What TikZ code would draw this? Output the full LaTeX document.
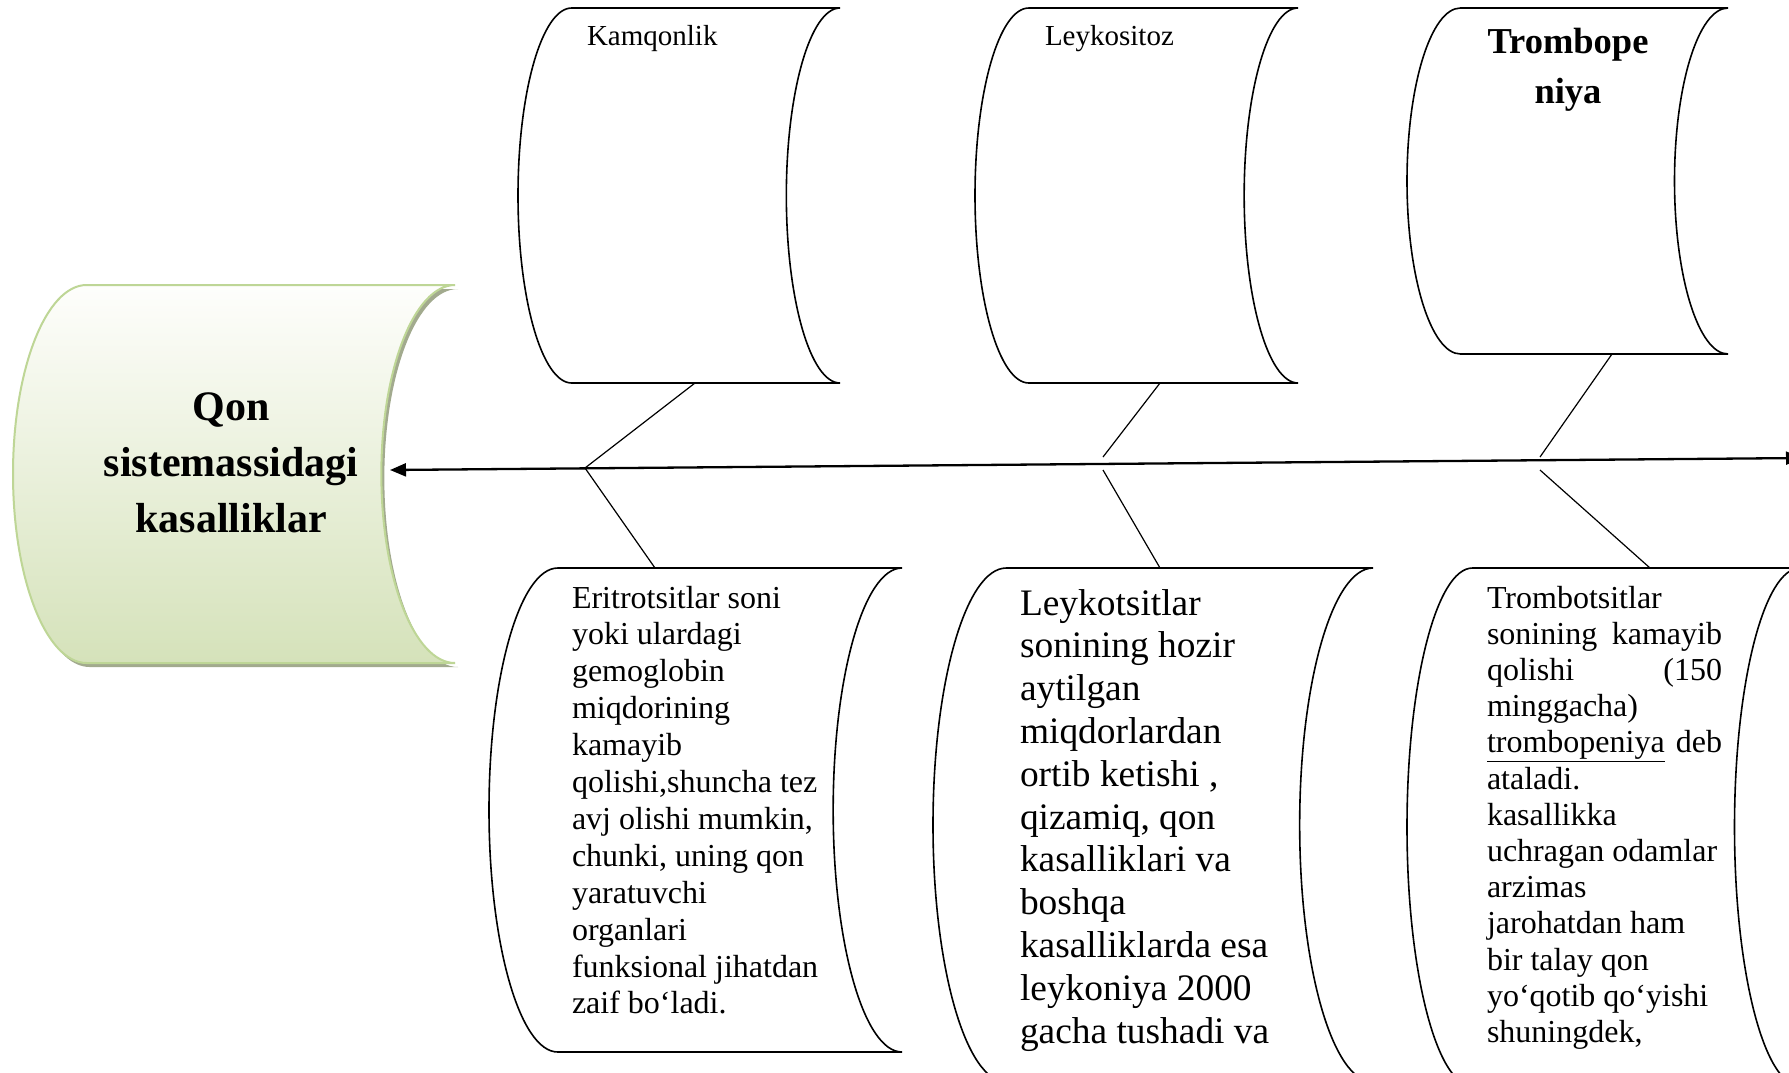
\documentclass[tikz,border=0pt]{standalone}
\usepackage{fontspec}
\setmainfont{Liberation Serif}
\usetikzlibrary{arrows.meta}

\definecolor{leafline}{RGB}{190,214,150}
\definecolor{leaftop}{RGB}{254,254,252}
\definecolor{leafmid}{RGB}{238,244,228}
\definecolor{leafbot}{RGB}{213,226,186}
\definecolor{leafshadow}{RGB}{162,170,142}

% Stored-data outline: convex arc on the left, concave arc on the right.
% Arguments: style, x0, ytop, x1, ybot (y counted downwards).
\newcommand\scrollshape[5][]{%
  \pgfmathsetmacro\scrD{(#4-#2)/6}%
  \pgfmathsetmacro\scrR{(#5-#3)/2}%
  \pgfmathsetmacro\scrA{#2+\scrD}%
  \path[#1] (\scrA,-#3) -- (#4,-#3)
    arc[start angle=90,end angle=270,x radius=\scrD,y radius=\scrR]
    -- (\scrA,-#5)
    arc[start angle=270,end angle=90,x radius=\scrD,y radius=\scrR] -- cycle;}

% Same outline plus an invisible named node covering it.
\newcommand\scrollbox[6][]{%
  \scrollshape[#1]{#3}{#4}{#5}{#6}%
  \pgfmathsetmacro\scrW{#5-#3}%
  \pgfmathsetmacro\scrH{#6-#4}%
  \node[boxarea, minimum width=\scrW pt, minimum height=\scrH pt,
        anchor=north west] (#2) at (#3,-#4) {};}

\tikzset{
  boxarea/.style={draw=none, inner sep=0pt, outer sep=0pt, rectangle},
  outline/.style={draw=black, line width=1.6pt, fill=white},
  branch/.style={draw=black, line width=1.2pt},
  spine/.style={draw=black, line width=2.3pt},
  label/.style={inner sep=0pt, outer sep=0pt, text=black},
}

\begin{document}
\begin{tikzpicture}[x=1pt,y=1pt]
  \useasboundingbox (0,0) rectangle (1789,-1072);
  \fill[white] (0,0) rectangle (1789,-1072);
  \clip (0,0) rectangle (1789,-1072);

  % central green head with its shadow
  \scrollshape[fill=leafshadow, shift={(3,-4)}]{13}{285}{455}{663}
  \scrollbox[draw=leafline, line width=2pt, top color=leaftop,
             middle color=leafmid, bottom color=leafbot]{qon}{13}{285}{455}{663}
  \node[label, anchor=base, font=\bfseries\fontsize{42}{56}\selectfont]
    (qontxt) at (231,-420)
    {\parbox[t]{420pt}{\centering Qon\\sistemassidagi\\kasalliklar}};

  % upper boxes
  \scrollbox[outline]{b1}{518}{8}{840}{383}
  \scrollbox[outline]{b2}{975}{8}{1298}{383}
  \scrollbox[outline]{b3}{1407}{8}{1728}{354}

  % lower boxes (the last two run past the lower edge)
  \scrollbox[outline]{b4}{489}{568}{902}{1052}
  \scrollbox[outline]{b5}{933}{568}{1373}{1082}
  \scrollbox[outline]{b6}{1407}{568}{1800}{1086}

  % titles of the upper boxes
  \node[label, anchor=base west, font=\fontsize{29}{33}\selectfont]
    (t1) at (587,-45) {Kamqonlik};
  \node[label, anchor=base west, font=\fontsize{29}{33}\selectfont]
    (t2) at (1045,-45) {Leykositoz};
  \node[label, anchor=base, font=\bfseries\fontsize{36.5}{50}\selectfont]
    (t3) at (1568,-53) {\parbox[t]{300pt}{\centering Trombope\\niya}};

  % texts of the lower boxes
  \node[label, anchor=base west, font=\fontsize{32}{36.9}\selectfont]
    (t4) at (572,-608) {\parbox[t]{280pt}{\raggedright
      Eritrotsitlar soni\\
      yoki ulardagi\\
      gemoglobin\\
      miqdorining\\
      kamayib\\
      qolishi,shuncha tez\\
      avj olishi mumkin,\\
      chunki, uning qon\\
      yaratuvchi\\
      organlari\\
      funksional jihatdan\\
      zaif bo‘ladi.}};

  \node[label, anchor=base west, font=\fontsize{37.4}{42.8}\selectfont]
    (t5) at (1020,-615) {\parbox[t]{320pt}{\raggedright
      Leykotsitlar\\
      sonining hozir\\
      aytilgan\\
      miqdorlardan\\
      ortib ketishi ,\\
      qizamiq, qon\\
      kasalliklari va\\
      boshqa\\
      kasalliklarda esa\\
      leykoniya 2000\\
      gacha tushadi va}};

  \node[label, anchor=base west, font=\fontsize{32}{36.2}\selectfont]
    (t6) at (1487,-608) {\parbox[t]{235pt}{\raggedright
      Trombotsitlar\\
      \makebox[235pt][s]{sonining kamayib}\\
      \makebox[235pt][s]{qolishi (150}\\
      minggacha)\\
      \makebox[235pt][s]{\underline{trombopeniya} deb}\\
      ataladi.\\
      kasallikka\\
      uchragan odamlar\\
      arzimas\\
      jarohatdan ham\\
      bir talay qon\\
      yo‘qotib qo‘yishi\\
      shuningdek,}};

  % spine
  \coordinate (spineL) at (390,-470);
  \coordinate (spineR) at (1802,-458);
  \draw[spine, {Triangle[length=16pt,width=13pt]}-{Triangle[length=16pt,width=13pt]}]
    (spineR) -- (spineL);

  % branches
  \coordinate (j1) at (585,-468);
  \draw[branch] ([xshift=16pt]b1.south) -- (j1) -- ([xshift=-40.5pt]b4.north);

  \coordinate (j2a) at (1103,-457);
  \coordinate (j2b) at (1103,-470);
  \draw[branch] ([xshift=23.5pt]b2.south) -- (j2a);
  \draw[branch] (j2b) -- ([xshift=7pt]b5.north);

  \coordinate (j3a) at (1540,-457);
  \coordinate (j3b) at (1540,-470);
  \draw[branch] ([xshift=44.5pt]b3.south) -- (j3a);
  \draw[branch] (j3b) -- ([xshift=46.5pt]b6.north);
\end{tikzpicture}
\end{document}
